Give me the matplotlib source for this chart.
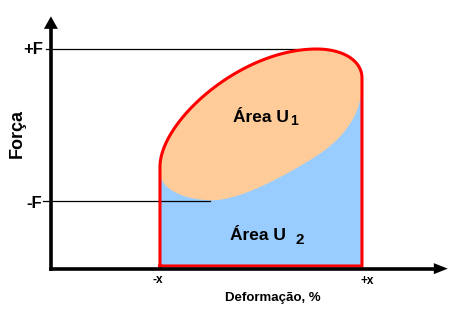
import numpy as np
import matplotlib
matplotlib.use("Agg")
import matplotlib.pyplot as plt

# ---- data (units: x in multiples of x, y in multiples of F) ----
x_limits = [-1.0, 1.0]          # -x, +x
f_levels = [1.0, -1.0]          # +F, -F
f_labels = ["+F", "-F"]
x_labels = ["-x", "+x"]
base_level = -1.855             # bottom of the loop (on the deformation axis)

# upper (loading) boundary of the loop: cubic Bezier segments, left -> right
upper_segments = [
    [(-1.00, -0.55), (-1.00, 0.05), (-0.20, 1.00), (0.55, 1.00)],
    [(0.55, 1.00), (0.82, 1.00), (1.00, 0.84), (1.00, 0.62)],
]
# lower boundary of the U1 area: cubic Bezier segments, right -> left
lower_segments = [
    [(1.00, 0.50), (0.98, 0.02), (0.72, -0.27), (0.50, -0.45)],
    [(0.50, -0.45), (0.24, -0.66), (-0.20, -0.99), (-0.48, -0.99)],
    [(-0.48, -0.99), (-0.75, -0.99), (-1.00, -0.85), (-1.00, -0.62)],
]


def bezier_chain(segments, n=60):
    t = np.linspace(0, 1, n)[:, None]
    out = []
    for k, seg in enumerate(segments):
        p0, p1, p2, p3 = (np.array(p, dtype=float) for p in seg)
        c = ((1 - t) ** 3) * p0 + 3 * ((1 - t) ** 2) * t * p1 + 3 * (1 - t) * t ** 2 * p2 + t ** 3 * p3
        out.append(c if k == 0 else c[1:])
    c = np.vstack(out)
    c[:, 0] = np.clip(c[:, 0], x_limits[0], x_limits[1])
    return c


upper = bezier_chain(upper_segments)
lower = bezier_chain(lower_segments)

# ---- figure ----
fig = plt.figure(figsize=(4.66, 3.15), dpi=100)
ax = fig.add_axes([0, 0, 1, 1])
ax.set_xlim(-2.584, 2.030)
ax.set_ylim(-2.5, 1.645)
ax.set_axis_off()

FONT = "Liberation Sans"
RED = "#FF0000"
ORANGE = "#FFCC99"
BLUE = "#99CCFF"

# outline polygon (U1 + U2)
outline = np.vstack([[x_limits[0], base_level], upper, [x_limits[1], base_level]])
ax.fill(outline[:, 0], outline[:, 1], color=BLUE, lw=0, zorder=1)

# U1 area
u1 = np.vstack([upper, lower])
ax.fill(u1[:, 0], u1[:, 1], color=ORANGE, lw=0, zorder=2)

# reference lines for +F / -F
ax.plot([-2.13, 0.37], [f_levels[0], f_levels[0]], color="black", lw=0.9, zorder=3)
ax.plot([-2.16, -0.50], [f_levels[1], f_levels[1]], color="black", lw=0.9, zorder=3)

# red outline
closed = np.vstack([outline, outline[:1]])
ax.plot(closed[:, 0], closed[:, 1], color=RED, lw=2.2, solid_joinstyle="miter", zorder=4)

# axes with arrows (1 px = 1/101 x-unit, 1/76 y-unit)
ax_x0, ax_y0 = -2.08, -1.89
x_tip, y_tip = 1.85, 1.43
ax.plot([ax_x0, x_tip - 0.12], [ax_y0, ax_y0], color="black", lw=2.6,
        solid_capstyle="projecting", zorder=5)
ax.plot([ax_x0, ax_x0], [ax_y0, y_tip - 0.14], color="black", lw=2.6,
        solid_capstyle="projecting", zorder=5)
ax.fill([x_tip, x_tip - 14 / 101, x_tip - 14 / 101], [ax_y0, ax_y0 + 5.5 / 76, ax_y0 - 5.5 / 76],
        color="black", lw=0, zorder=6)
ax.fill([ax_x0, ax_x0 - 7 / 101, ax_x0 + 7 / 101], [y_tip, y_tip - 12.5 / 76, y_tip - 12.5 / 76],
        color="black", lw=0, zorder=6)

# labels
ax.text(-2.16, 0.934, f_labels[0], ha="right", va="baseline", fontsize=12,
        fontweight="bold", family=FONT)
ax.text(-2.17, -1.09, f_labels[1], ha="right", va="baseline", fontsize=12,
        fontweight="bold", family=FONT)
ax.text(-2.416, -0.118, "Força", ha="center", va="center", rotation=90,
        fontsize=13, fontweight="bold", family=FONT)
ax.text(x_limits[0] - 0.02, -2.08, x_labels[0], ha="center", va="baseline",
        fontsize=8.5, fontweight="bold", family=FONT)
ax.text(x_limits[1] + 0.05, -2.09, x_labels[1], ha="center", va="baseline",
        fontsize=8.5, fontweight="bold", family=FONT)
ax.text(0.119, -2.316, "Deformação, %", ha="center", va="baseline",
        fontsize=9.5, fontweight="bold", family=FONT)

ax.text(-0.277, 0.039, "Área U", ha="left", va="baseline", fontsize=12.5,
        fontweight="bold", family=FONT, zorder=7)
ax.text(0.29, 0.0, "1", ha="left", va="baseline", fontsize=10,
        fontweight="bold", family=FONT, zorder=7)
ax.text(-0.307, -1.513, "Área U", ha="left", va="baseline", fontsize=12.5,
        fontweight="bold", family=FONT, zorder=7)
ax.text(0.337, -1.566, "2", ha="left", va="baseline", fontsize=11,
        fontweight="bold", family=FONT, zorder=7)

fig.savefig("out.png", dpi=100)
